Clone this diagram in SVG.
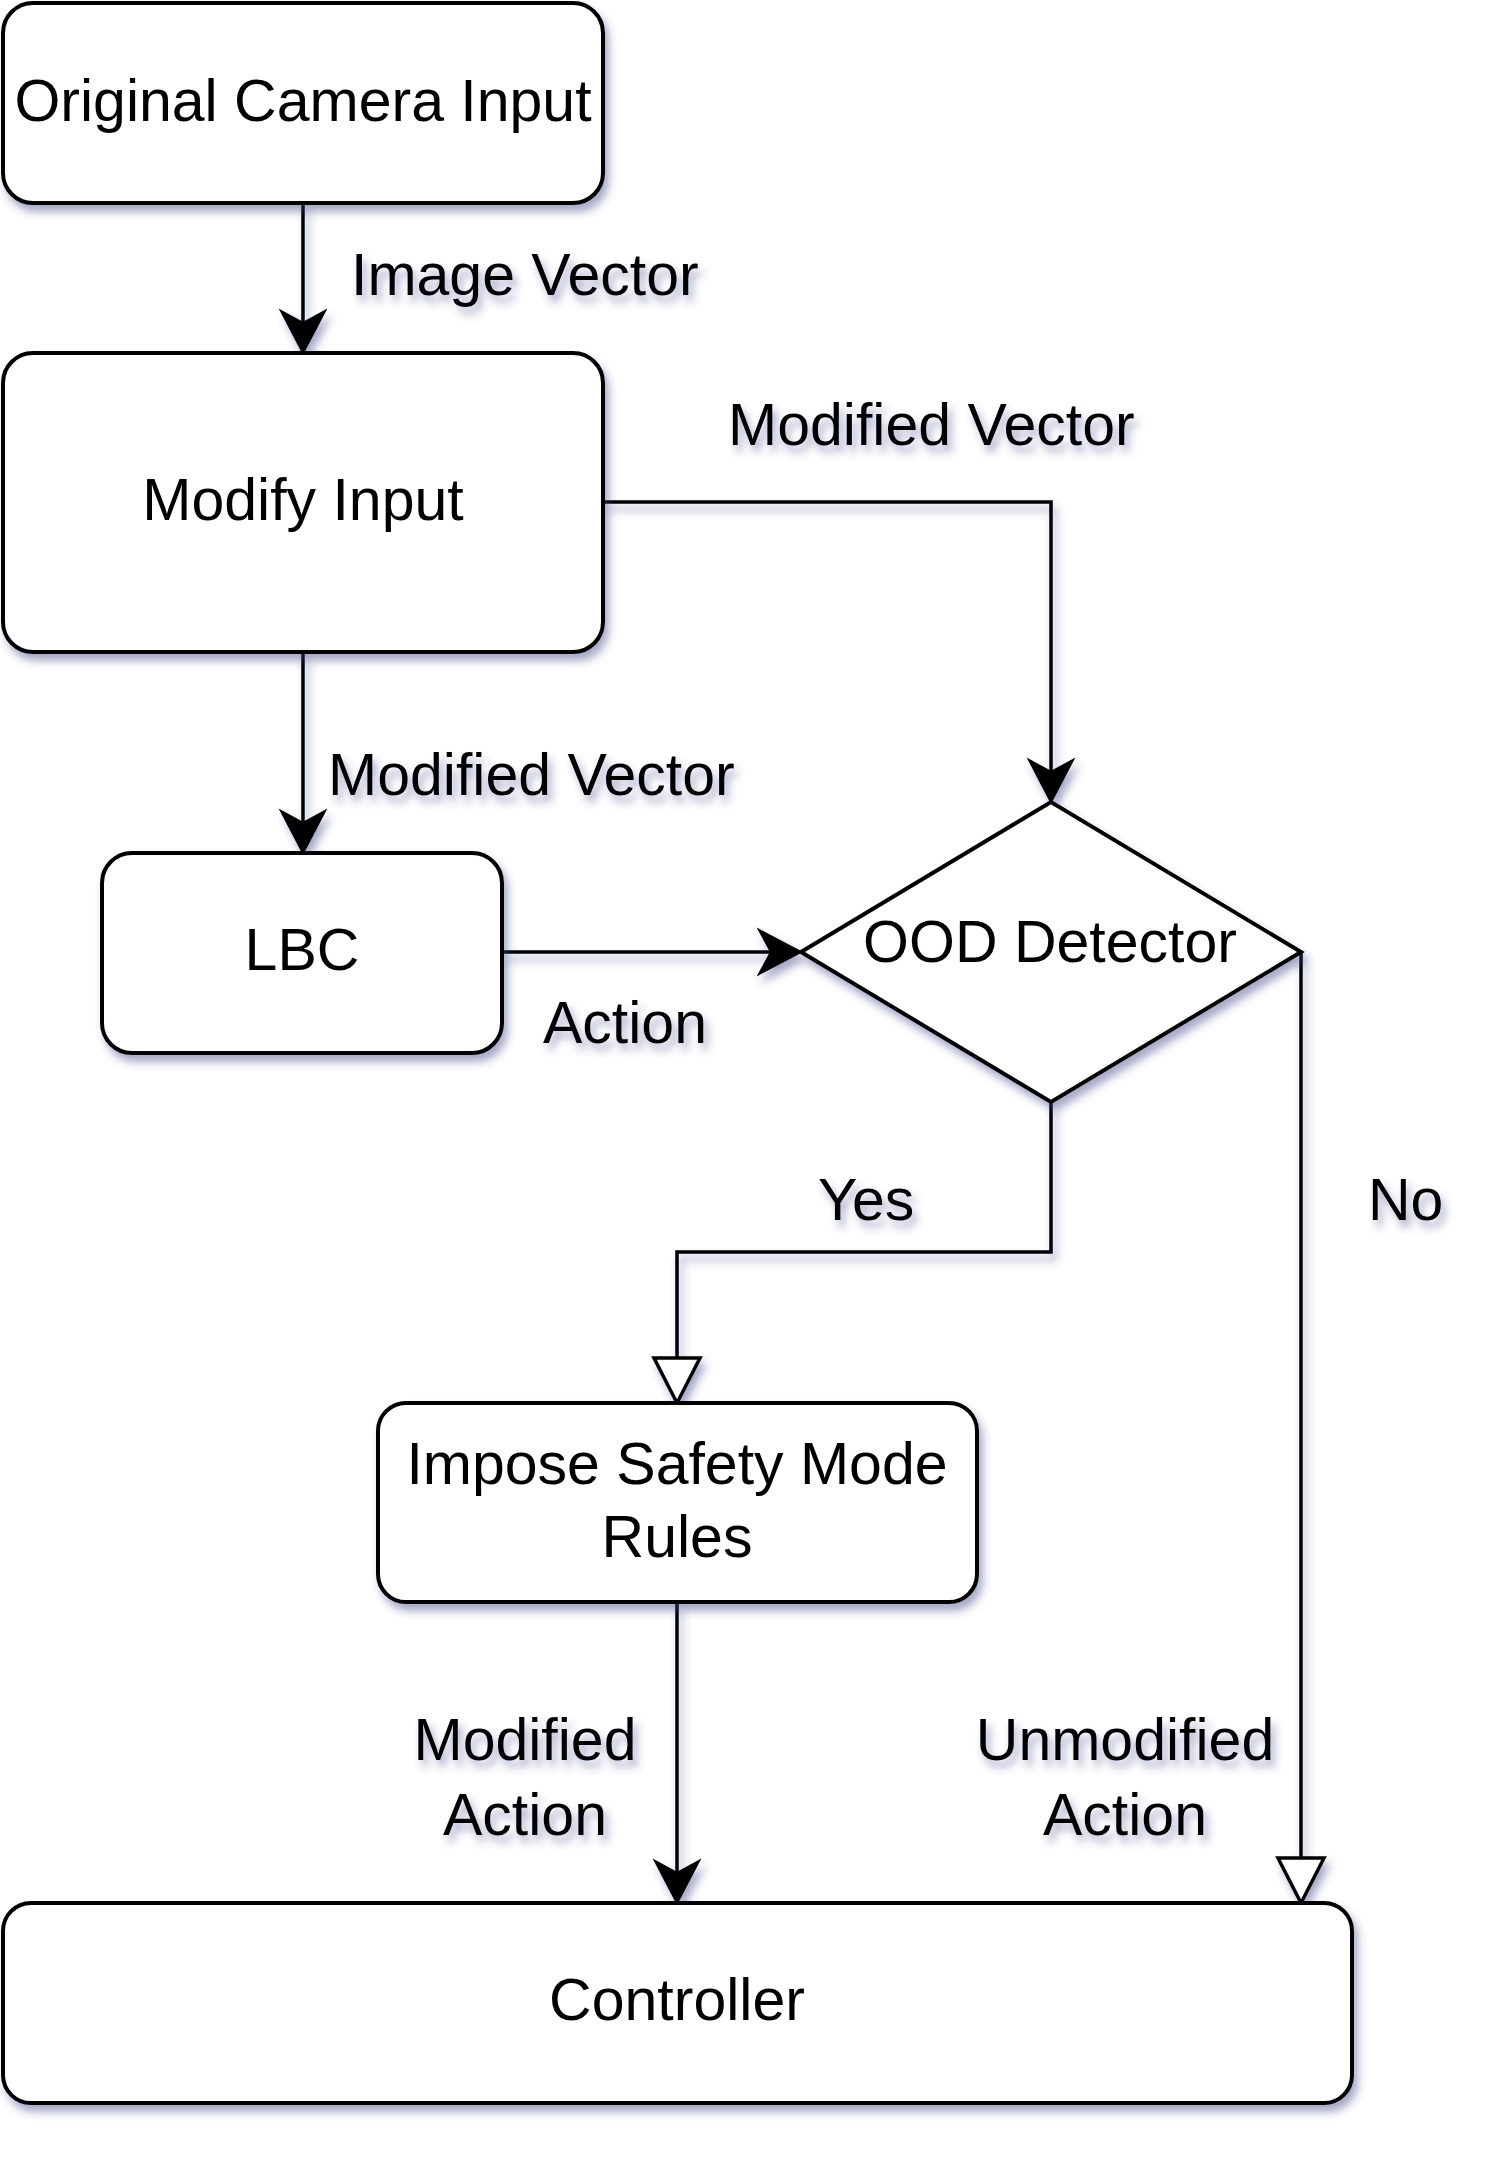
<svg xmlns="http://www.w3.org/2000/svg" width="1495" height="2160" viewBox="0 0 1495 2160">
<style>
.node{fill:#fff;stroke:#000;stroke-width:4}
.edge{fill:none;stroke:#000;stroke-width:3.5}
text{font-family:"Liberation Sans",Arial,Helvetica,sans-serif;font-size:59px;fill:#000}
.c{text-anchor:middle}
</style>
<defs>
<filter id="sh" x="-10%" y="-10%" width="130%" height="130%">
<feDropShadow dx="4" dy="7" stdDeviation="4" flood-color="#3c4382" flood-opacity="0.45"/>
</filter>
<marker id="arr" markerUnits="userSpaceOnUse" orient="auto" refX="0" refY="0" markerWidth="60" markerHeight="60" overflow="visible">
<path d="M-12,-22 L30,0 L-12,22 L0,0 Z" fill="#000" stroke="#000" stroke-width="2" stroke-linejoin="miter"/>
</marker>
<marker id="tri" markerUnits="userSpaceOnUse" orient="auto" refX="0" refY="0" markerWidth="60" markerHeight="60" overflow="visible">
<path d="M0,-23 L45,0 L0,23 Z" fill="#fff" stroke="#000" stroke-width="3.5"/>
</marker>
</defs>
<rect width="1495" height="2160" fill="#fff"/>
<g id="connectors" filter="url(#sh)">
<path class="edge" d="M303,203 V323" marker-end="url(#arr)"/>
<path class="edge" d="M603,502 H1051 V772" marker-end="url(#arr)"/>
<path class="edge" d="M303,652 V823" marker-end="url(#arr)"/>
<path class="edge" d="M502,952 H771" marker-end="url(#arr)"/>
<path class="edge" d="M1051,1102 V1252 H677 V1358" marker-end="url(#tri)"/>
<path class="edge" d="M1301,952 V1858" marker-end="url(#tri)"/>
<path class="edge" d="M677,1602 V1873" marker-end="url(#arr)"/>
</g>
<g id="labels" filter="url(#sh)">
<text x="351" y="295">Image Vector</text>
<text x="728" y="445">Modified Vector</text>
<text x="328" y="795">Modified Vector</text>
<text x="543" y="1043">Action</text>
<text x="818" y="1220">Yes</text>
<text x="1368" y="1220">No</text>
<text class="c" x="525" y="1760">Modified</text>
<text class="c" x="525" y="1835">Action</text>
<text class="c" x="1125" y="1760">Unmodified</text>
<text class="c" x="1125" y="1835">Action</text>
</g>
<g id="n-camera" filter="url(#sh)">
<rect class="node" x="3" y="3" width="600" height="200" rx="30"/>
<text class="c" x="303" y="121">Original Camera Input</text>
</g>
<g id="n-modify" filter="url(#sh)">
<rect class="node" x="3" y="353" width="600" height="299" rx="30"/>
<text class="c" x="303" y="520">Modify Input</text>
</g>
<g id="n-lbc" filter="url(#sh)">
<rect class="node" x="102" y="853" width="400" height="200" rx="30"/>
<text class="c" x="302" y="970">LBC</text>
</g>
<g id="n-ood" filter="url(#sh)">
<path class="node" d="M801,952 L1051,802 L1301,952 L1051,1102 Z"/>
<text class="c" x="1050" y="962">OOD Detector</text>
</g>
<g id="n-safety" filter="url(#sh)">
<rect class="node" x="378" y="1403" width="599" height="199" rx="28"/>
<text class="c" x="677" y="1484">Impose Safety Mode</text>
<text class="c" x="677" y="1557">Rules</text>
</g>
<g id="n-controller" filter="url(#sh)">
<rect class="node" x="3" y="1903" width="1349" height="200" rx="28"/>
<text class="c" x="677" y="2020">Controller</text>
</g>
</svg>
